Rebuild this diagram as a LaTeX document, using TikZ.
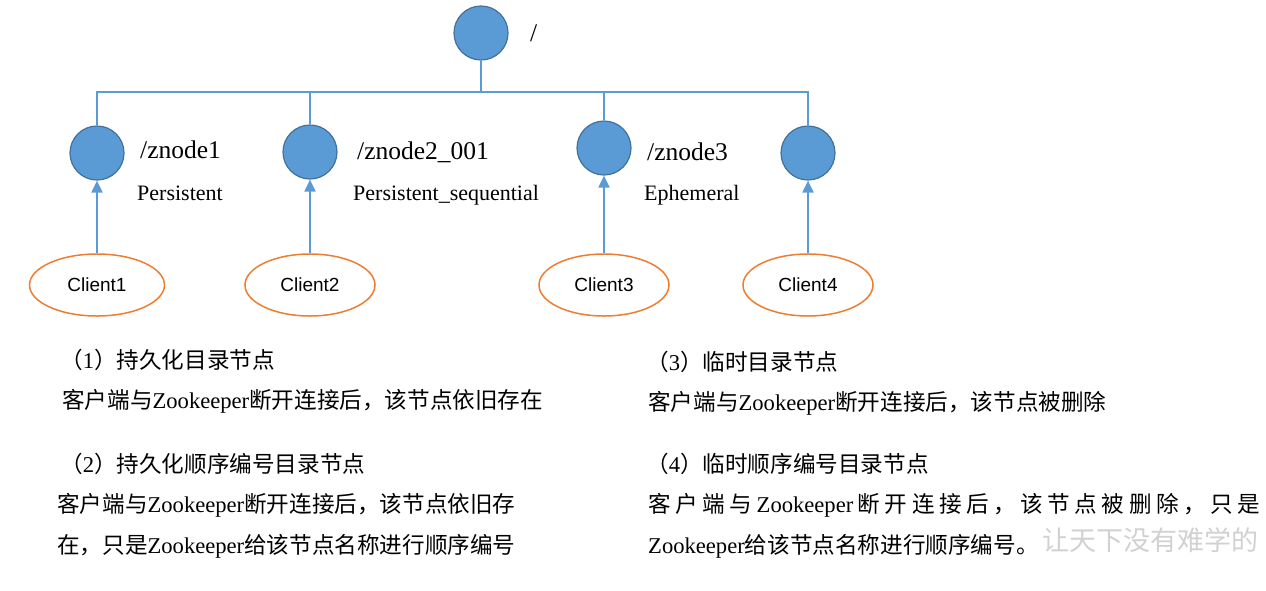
\documentclass[tikz,border=0pt]{standalone}
\usepackage{fontspec}
\setmainfont{Liberation Serif}
\newfontfamily\cjk{Noto Sans CJK SC}
\newfontfamily\arial{Liberation Sans}
\usetikzlibrary{arrows.meta,shapes.geometric}
\definecolor{zkblue}{HTML}{5B9BD5}
\definecolor{zkedge}{HTML}{41719C}
\definecolor{zkorange}{HTML}{ED7D31}
\newcommand{\cn}[1]{{\cjk #1}}
\newcommand{\fs}[1]{\fontsize{#1}{#1}\selectfont}

\begin{document}
\begin{tikzpicture}[x=1pt,y=-1pt,
  znode/.style={circle, fill=zkblue, draw=zkedge, line width=1.2pt, minimum size=54pt, inner sep=0},
  client/.style={ellipse, draw=zkorange, line width=1.5pt, minimum width=130pt, minimum height=62pt, font=\arial\fs{19}},
  tree/.style={draw=zkblue, line width=1.3pt},
  arr/.style={draw=zkblue, line width=2pt, -{Triangle[length=12pt,width=11pt]}},
  lbl/.style={anchor=west, inner sep=0, font=\fs{25.5}},
  kind/.style={anchor=west, inner sep=0, font=\fs{22}},
  note/.style={anchor=west, inner sep=0, font=\fs{22.6}}]
  \useasboundingbox (0,0) rectangle (1266,590);

  % ---- tree of znodes ----
  \node[znode] (root) at (481,33) {};
  \node[lbl] (rootlbl) at (530,33) {/};
  \coordinate (bus) at (481,92);
  \node[znode] (zn1) at (97,153) {};
  \node[znode] (zn2) at (310,152) {};
  \node[znode] (zn3) at (604,148) {};
  \node[znode] (zn4) at (808,153) {};
  \foreach \n in {zn1,zn2,zn3,zn4}
    \draw[tree] (root.south) -- (bus) -| (\n.north);

  \node[lbl] (zn1lbl) at (140,150) {/znode1};
  \node[kind] (zn1kind) at (137,193) {Persistent};
  \node[lbl] (zn2lbl) at (357,152) {/znode2\_001};
  \node[kind] (zn2kind) at (353,195) {Persistent\_sequential};
  \node[lbl] (zn3lbl) at (647,152) {/znode3};
  \node[kind] (zn3kind) at (644,195) {Ephemeral};

  % ---- clients ----
  \node[client, minimum width=135pt] (c1) at (97,285) {Client1};
  \node[client] (c2) at (310,285) {Client2};
  \node[client] (c3) at (604,285) {Client3};
  \node[client] (c4) at (808,285) {Client4};
  \foreach \i in {1,...,4}
    \draw[arr] (c\i.north) -- (zn\i.south);

  % ---- notes, left ----
  \node[note] (n1a) at (60,360) {\cn{（}1\cn{）持久化目录节点}};
  \node[note] (n1b) at (62,401) {\cn{客户端与}Zookeeper\cn{断开连接后，该节点依旧存在}};
  \node[note] (n2a) at (60,464) {\cn{（}2\cn{）持久化顺序编号目录节点}};
  \node[note] (n2b) at (57,505) {\cn{客户端与}Zookeeper\cn{断开连接后，该节点依旧存}};
  \node[note] (n2c) at (57,546) {\cn{在，只是}Zookeeper\cn{给该节点名称进行顺序编号}};

  % ---- notes, right ----
  \node[note] (n3a) at (646,362) {\cn{（}3\cn{）临时目录节点}};
  \node[note] (n3b) at (648,403) {\cn{客户端与}Zookeeper\cn{断开连接后，该节点被删除}};
  \node[note] (n4a) at (646,464) {\cn{（}4\cn{）临时顺序编号目录节点}};
  \node[note] (n4b) at (648,505) {\makebox[612pt][s]{\cn{客\hfill 户\hfill 端\hfill 与}\hfill Zookeeper\hfill
    \cn{断\hfill 开\hfill 连\hfill 接\hfill 后\hfill ，\hfill 该\hfill 节\hfill 点\hfill 被\hfill 删\hfill 除\hfill ，\hfill 只\hfill 是}}};
  \node[note] (n4c) at (648,546) {Zookeeper\cn{给该节点名称进行顺序编号。}};

  % ---- watermark ----
  \node[anchor=west, inner sep=0, text=black!18, font=\cjk\fs{27}] (mark) at (1042,540) {让天下没有难学的};
\end{tikzpicture}
\end{document}
